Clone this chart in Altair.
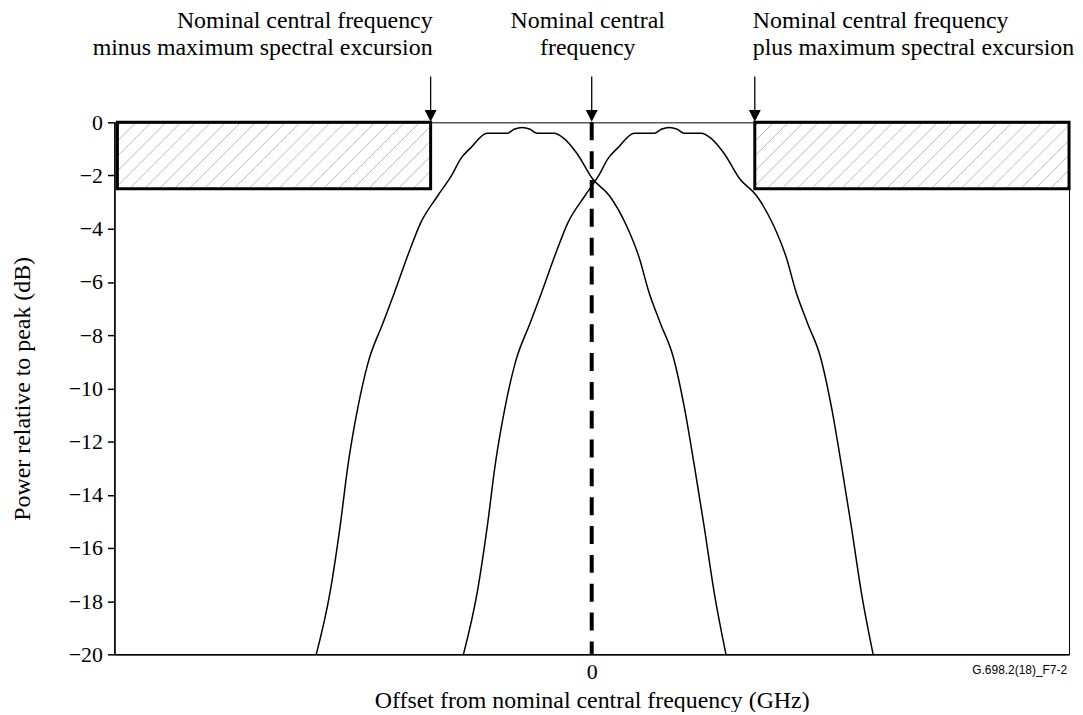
import altair as alt
import pandas as pd
import numpy as np

# ---------------- data ----------------
x_domain = [-48, 48]
y_domain = [-20, 0]
y_ticks = list(range(-20, 1, 2))
x_ticks = [0]

# spectrum of the signal shifted to the low side
left_x = [-27.7, -26.3, -25.3, -24.5, -23.5, -22.5, -21.0, -19.8, -18.5, -17.2,
          -15.5, -14.0, -13.2, -12.2, -10.5, -8.5, -7.8, -7.0, -6.2, -5.5,
          -3.8, -2.8, -1.5, 0.1, 1.8, 3.5, 4.8, 5.7, 6.9, 8.2,
          9.3, 10.3, 11.3, 12.3, 13.5]
left_db = [-20.0, -17.64, -15.18, -12.86, -10.69, -9.05, -7.55, -6.36, -5.01, -3.78,
           -2.77, -1.94, -1.38, -0.97, -0.41, -0.41, -0.26, -0.19, -0.26, -0.41,
           -0.41, -0.60, -1.16, -2.13, -2.77, -3.89, -5.12, -6.32, -7.55, -8.82,
           -10.69, -12.86, -15.18, -17.64, -20.0]

# spectrum of the signal shifted to the high side
right_x = [-12.9, -11.5, -10.5, -9.7, -8.7, -7.7, -6.2, -5.0, -3.7, -2.4,
           -0.7, 0.8, 1.6, 2.6, 4.3, 6.3, 7.0, 7.8, 8.6, 9.3,
           11.0, 12.0, 13.3, 14.9, 16.6, 18.3, 19.6, 20.5, 21.7, 23.0,
           24.1, 25.1, 26.1, 27.1, 28.3]
right_db = [-20.0, -17.64, -15.18, -12.86, -10.69, -9.05, -7.55, -6.36, -5.01, -3.78,
            -2.77, -1.94, -1.38, -0.97, -0.41, -0.41, -0.26, -0.19, -0.26, -0.41,
            -0.41, -0.60, -1.16, -2.13, -2.77, -3.89, -5.12, -6.32, -7.55, -8.82,
            -10.69, -12.86, -15.18, -17.64, -20.0]

# forbidden (hatched) regions
mask_x_start = [-47.7, 16.4]
mask_x_end = [-16.2, 48.0]
mask_top = [0.0, 0.0]
mask_bottom = [-2.5, -2.5]

center_freq = [0.0]
center_top = [0.0]
center_bottom = [-20.0]

arrow_x = [mask_x_end[0], center_freq[0], mask_x_start[1]]
annot_left = "Nominal central frequency\nminus maximum spectral excursion"
annot_center = "Nominal central\nfrequency"
annot_right = "Nominal central frequency\nplus maximum spectral excursion"

y_title = "Power relative to peak (dB)"
x_title = "Offset from nominal central frequency (GHz)"
figure_id = "G.698.2(18)_F7-2"

# ---------------- layout ----------------
W, H = 960, 535
SERIF = "Liberation Serif"

curves = pd.concat([
    pd.DataFrame({"series": "low", "x": left_x, "db": left_db, "order": range(len(left_x))}),
    pd.DataFrame({"series": "high", "x": right_x, "db": right_db, "order": range(len(right_x))}),
])

boxes = pd.DataFrame({"x": mask_x_start, "x2": mask_x_end, "y": mask_top, "y2": mask_bottom})

# hatch lines for the boxes (45 degree, computed from box extents)
sx = W / (x_domain[1] - x_domain[0])
sy = H / (y_domain[1] - y_domain[0])
spacing = 15.0
rows = []
for xa, xb, yt, yb in zip(mask_x_start, mask_x_end, mask_top, mask_bottom):
    bw = (xb - xa) * sx
    bh = (yt - yb) * sy
    c = -bh + 4
    while c < bw:
        if c >= 0:
            u0, v0 = c, 0.0
        else:
            u0, v0 = 0.0, -c
        if c + bh <= bw:
            u1, v1 = c + bh, bh
        else:
            u1, v1 = bw, bw - c
        if (u1 - u0) > 1:
            rows.append({"x": xa + u0 / sx, "y": yb + v0 / sy,
                         "x2": xa + u1 / sx, "y2": yb + v1 / sy})
        c += spacing
hatch = pd.DataFrame(rows)

center = pd.DataFrame({"x": center_freq, "y": center_top, "y2": center_bottom})
arrows = pd.DataFrame({"x": arrow_x})

xs = alt.Scale(domain=x_domain, nice=False, zero=False)
ys = alt.Scale(domain=y_domain, nice=False, zero=False)

x_axis = alt.Axis(values=x_ticks, ticks=False, tickSize=0, labelPadding=7, grid=False,
                  title=x_title, titleX=W / 2, titleY=46, titleAlign="center",
                  titleBaseline="middle", format="d")
y_axis = alt.Axis(values=y_ticks, tickSize=7, labelPadding=5, grid=False,
                  title=y_title, titleX=-92, titleY=H / 2, titleAngle=-90,
                  titleAlign="center", titleBaseline="middle", format="d")

base_curve = alt.Chart(curves).mark_line(color="black", strokeWidth=1.5, interpolate="monotone").encode(
    x=alt.X("x:Q", scale=xs, axis=x_axis),
    y=alt.Y("db:Q", scale=ys, axis=y_axis),
    detail="series:N",
    order="order:Q",
)

hatch_layer = alt.Chart(hatch).mark_rule(color="#a8a8a8", strokeWidth=0.8).encode(
    x=alt.X("x:Q", scale=xs), y=alt.Y("y:Q", scale=ys), x2="x2:Q", y2="y2:Q"
)

box_layer = alt.Chart(boxes).mark_rect(fillOpacity=0, stroke="black", strokeWidth=3).encode(
    x=alt.X("x:Q", scale=xs), x2="x2:Q", y=alt.Y("y:Q", scale=ys), y2="y2:Q"
)

center_layer = alt.Chart(center).mark_rule(color="black", strokeWidth=4, strokeDash=[18, 11]).encode(
    x=alt.X("x:Q", scale=xs), y=alt.Y("y:Q", scale=ys), y2="y2:Q"
)

stems = alt.Chart(arrows).mark_rule(color="black", strokeWidth=1.3).encode(
    x=alt.X("x:Q", scale=xs), y=alt.value(-46), y2=alt.value(-10)
)
heads = alt.Chart(arrows).mark_point(shape="M-1,-1L1,-1L0,1Z", size=144, filled=True,
                                     color="black", opacity=1, strokeWidth=0).encode(
    x=alt.X("x:Q", scale=xs), y=alt.value(-6.5)
)

def annot(text, x, align, dx):
    df = pd.DataFrame({"x": [x], "t": [text]})
    return alt.Chart(df).mark_text(font=SERIF, fontSize=24, align=align, baseline="alphabetic",
                                   lineBreak="\n", lineHeight=27, color="black", dx=dx).encode(
        x=alt.X("x:Q", scale=xs), y=alt.value(-95), text="t:N"
    )

t_left = annot(annot_left, arrow_x[0], "right", 2)
t_center = annot(annot_center, arrow_x[1], "center", -4)
t_right = annot(annot_right, arrow_x[2], "left", -2)

fig_id = alt.Chart(pd.DataFrame({"t": [figure_id]})).mark_text(
    font="Liberation Sans Narrow, Arial Narrow, Liberation Sans", fontSize=12,
    align="right", baseline="middle", color="black").encode(
    x=alt.value(W - 2), y=alt.value(H + 16), text="t:N"
)

chart = alt.layer(
    hatch_layer, box_layer, base_curve, center_layer, stems, heads,
    t_left, t_center, t_right, fig_id
).properties(
    width=W, height=H,
    autosize=alt.AutoSizeParams(type="none"),
    padding={"left": 107, "top": 113, "right": 6, "bottom": 56},
).configure_view(
    stroke="black", strokeWidth=1
).configure_axis(
    labelFont=SERIF, labelFontSize=22, labelColor="black",
    titleFont=SERIF, titleFontSize=24, titleFontWeight="normal", titleColor="black",
    domainColor="black", domainWidth=1.5, tickColor="black", tickWidth=1.5,
)

chart.save("out.html", embed_options={"renderer": "svg", "actions": False})
